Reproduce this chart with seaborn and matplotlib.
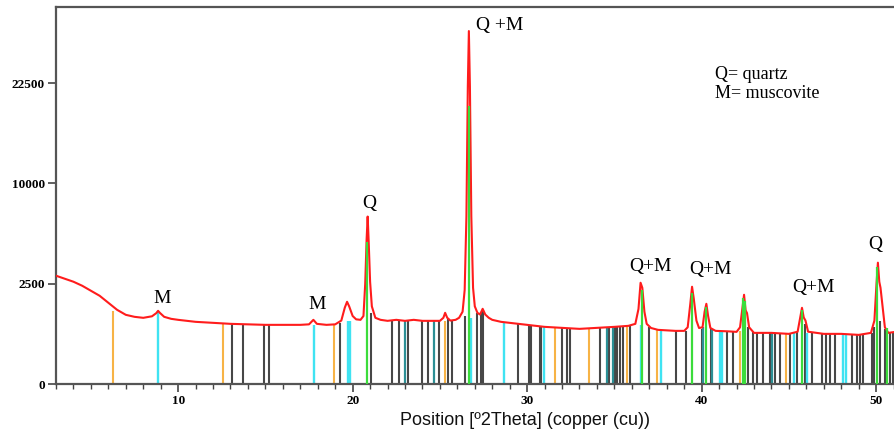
import numpy as np
import pandas as pd
import matplotlib
matplotlib.use("Agg")
import matplotlib.pyplot as plt
from matplotlib.ticker import MultipleLocator, FixedLocator
import seaborn as sns

# ---------------- data ----------------
two_theta = [3.0, 3.5, 4.0, 4.5, 5.0, 5.5, 6.0, 6.5, 7.0, 7.5, 8.0, 8.5, 8.75, 8.85, 8.95,
             9.2, 9.6, 10.0, 11.0, 12.0, 13.0, 14.0, 15.0, 16.0, 17.0, 17.5, 17.75, 17.95,
             18.5, 19.0, 19.35, 19.55, 19.68, 19.8, 20.0, 20.2, 20.45, 20.62, 20.72, 20.8,
             20.86, 20.92, 21.0, 21.1, 21.3, 21.6, 22.0, 22.5, 23.0, 23.5, 24.0, 24.5, 25.0,
             25.2, 25.3, 25.42, 25.6, 25.9, 26.1, 26.3, 26.42, 26.52, 26.6, 26.66, 26.72,
             26.8, 26.9, 27.0, 27.15, 27.3, 27.45, 27.6, 27.8, 28.0, 28.5, 29.0, 30.0, 31.0,
             32.0, 33.0, 34.0, 35.0, 35.8, 36.2, 36.38, 36.5, 36.6, 36.72, 36.85, 37.1, 37.5,
             38.5, 39.0, 39.2, 39.35, 39.45, 39.55, 39.7, 39.85, 40.05, 40.17, 40.27, 40.37,
             40.5, 40.8, 41.5, 42.0, 42.2, 42.33, 42.43, 42.52, 42.6, 42.72, 43.0, 44.0, 45.0,
             45.5, 45.65, 45.75, 45.85, 45.95, 46.1, 47.0, 48.0, 49.0, 49.7, 49.9, 50.02,
             50.1, 50.18, 50.25, 50.35, 50.5, 50.7, 51.1]
intensity = [2916, 2756, 2601, 2401, 2162, 1936, 1640, 1369, 1190, 1122, 1089, 1140, 1250, 1332, 1260,
             1122, 1056, 1024, 961, 930, 900, 885, 870, 870, 870, 885, 1024, 900,
             870, 885, 1000, 1450, 1681, 1500, 1150, 1040, 1024, 1150, 2500, 5200,
             6972, 5000, 2600, 1500, 1090, 1024, 992, 1024, 992, 1024, 992, 992, 992,
             1090, 1260, 1090, 1000, 1024, 1090, 1300, 2200, 7000, 22000, 30976, 22000,
             7000, 2300, 1500, 1260, 1200, 1406, 1200, 1090, 1024, 961, 930, 870, 812,
             784, 756, 784, 812, 841, 900, 1400, 2550, 2300, 1300, 900, 780, 729,
             702, 702, 800, 1600, 2352, 1800, 1000, 780, 800, 1300, 1600, 1150,
             780, 702, 690, 676, 800, 1400, 1980, 1350, 1250, 800, 650, 650, 625,
             680, 1100, 1444, 1100, 1000, 680, 625, 625, 600, 650, 1000, 2500,
             3660, 2600, 2300, 1600, 800, 650, 676]

# reference-pattern sticks
orange_pos = [6.28, 12.59, 18.93, 25.29, 31.57, 33.53, 35.72, 37.42, 42.2, 44.83]
orange_h = [1340, 900, 860, 980, 790, 760, 820, 720, 700, 620]

cyan_pos = [8.83, 17.79, 19.76, 19.86, 26.76, 28.67, 30.98, 36.5, 37.68, 41.05, 41.15,
            45.29, 46.06, 48.12, 48.27]
cyan_h = [1330, 870, 1000, 1000, 1090, 950, 800, 870, 720, 690, 690, 640, 640, 620, 620]

teal_pos = [23.0, 24.68, 34.56, 34.9, 40.1, 40.58, 44.01]
teal_h = [1000, 990, 800, 800, 800, 750, 650]

black_pos = [13.10, 13.69, 14.91, 15.22, 19.28, 21.05, 22.27, 22.66, 23.19, 23.99, 24.30,
             24.95, 25.48, 25.68, 26.44, 27.11, 27.38, 27.46, 29.49, 30.12, 30.2, 30.72,
             30.82, 32.02, 32.3, 32.45, 34.15, 34.71, 35.05, 35.17, 35.32, 35.47, 35.89,
             36.96, 38.52, 39.1, 40.0, 40.52, 41.47, 41.78, 42.67, 42.96, 43.19, 43.53,
             43.92, 44.2, 44.49, 45.06, 45.48, 45.92, 46.31, 46.88, 47.13, 47.36, 47.64,
             48.6, 48.89, 49.07, 49.23, 49.74, 49.9, 50.2, 50.5, 50.79, 50.97]
black_h = [900, 900, 880, 880, 930, 1260, 1000, 1000, 990, 1000, 990,
           990, 1050, 1000, 1150, 1250, 1300, 1350, 920, 860, 860, 830,
           830, 780, 780, 780, 780, 800, 810, 810, 810, 820, 840,
           800, 700, 700, 760, 740, 690, 690, 800, 660, 650, 650,
           650, 650, 640, 630, 660, 900, 640, 625, 625, 625, 625,
           615, 610, 610, 610, 640, 800, 1000, 760, 640, 660]

green_pos = [20.82, 26.66, 36.56, 39.43, 40.25, 42.35, 42.48, 45.73, 50.07, 50.6]
green_h = [5041, 19182, 2209, 2070, 1482, 1850, 1700, 1369, 3422, 784]

peak_labels = ["M", "M", "Q", "Q +M", "Q+M", "Q+M", "Q+M", "Q"]
peak_label_x = [9.1, 17.95, 20.95, 28.45, 37.05, 40.5, 46.4, 49.95]
peak_label_y = [1800, 1560, 8100, 31900, 3430, 3280, 2300, 4820]

yticks = [0, 2500, 10000, 22500]
xticks = [10, 20, 30, 40, 50]

# ---------------- figure ----------------
sns.set_theme(style="white")
plt.rcParams["font.family"] = ["Liberation Serif", "DejaVu Serif"]

W, H = 895, 436
fig = plt.figure(figsize=(W / 100, H / 100), dpi=100)
ax = fig.add_axes([56 / W, (H - 384) / H, 839 / W, 377 / H])

df = pd.DataFrame({"two_theta": two_theta, "intensity": intensity})

ax.vlines(black_pos, 0, black_h, colors="#474747", lw=1.5, zorder=2)
ax.vlines(orange_pos, 0, orange_h, colors="#f7b346", lw=1.5, zorder=2)
ax.vlines(cyan_pos, 0, cyan_h, colors="#3fe3f2", lw=1.7, zorder=2)
ax.vlines(teal_pos, 0, teal_h, colors="#2b8f95", lw=1.6, zorder=2)

sns.lineplot(data=df, x="two_theta", y="intensity", ax=ax, color="#ff1c1c",
             lw=1.5, zorder=3, legend=False)

ax.vlines(green_pos, 0, green_h, colors="#3bdc3b", lw=1.6, zorder=4)


def fwd(v):
    return np.sqrt(np.clip(v, 0, None))


def inv(v):
    return np.asarray(v) ** 2


ax.set_yscale("function", functions=(fwd, inv))
ax.set_xlim(3, 3 + 839 / 17.45)
ax.set_ylim(0, 188 ** 2)

ax.yaxis.set_major_locator(FixedLocator(yticks))
ax.set_yticklabels([str(t) for t in yticks])
ax.yaxis.set_minor_locator(FixedLocator([]))
ax.xaxis.set_major_locator(FixedLocator(xticks))
ax.set_xticklabels([str(t) for t in xticks])
ax.xaxis.set_minor_locator(MultipleLocator(1))

for s in ["left", "bottom", "top"]:
    ax.spines[s].set_visible(True)
    ax.spines[s].set_color("#555555")
    ax.spines[s].set_linewidth(1.6)
ax.spines["right"].set_visible(False)

ax.tick_params(axis="both", which="major", direction="out", length=6, width=1.2,
               color="#444444", labelsize=9.5, pad=2, labelcolor="black")
ax.tick_params(axis="x", which="minor", direction="out", length=3.5, width=1.0,
               color="#444444", bottom=True)
ax.tick_params(axis="y", left=True)
ax.tick_params(axis="x", bottom=True)
for lab in ax.get_xticklabels() + ax.get_yticklabels():
    lab.set_fontweight("bold")

ax.set_ylabel("")
ax.set_xlabel("Position [º2Theta] (copper (cu))", fontsize=13,
              family=["Liberation Sans", "DejaVu Sans"], color="#111111")
ax.xaxis.set_label_coords((525 - 56) / 839, -0.075)

for t, x, y in zip(peak_labels, peak_label_x, peak_label_y):
    ax.text(x, y, t, ha="center", va="center", fontsize=14, color="black", zorder=5)

ax.text((715 - 56) / 839, (384 - 84) / 377, "Q= quartz\nM= muscovite", transform=ax.transAxes,
        ha="left", va="center", fontsize=13, linespacing=1.15, color="black")

ax.grid(False)
fig.savefig("out.png", dpi=100)
